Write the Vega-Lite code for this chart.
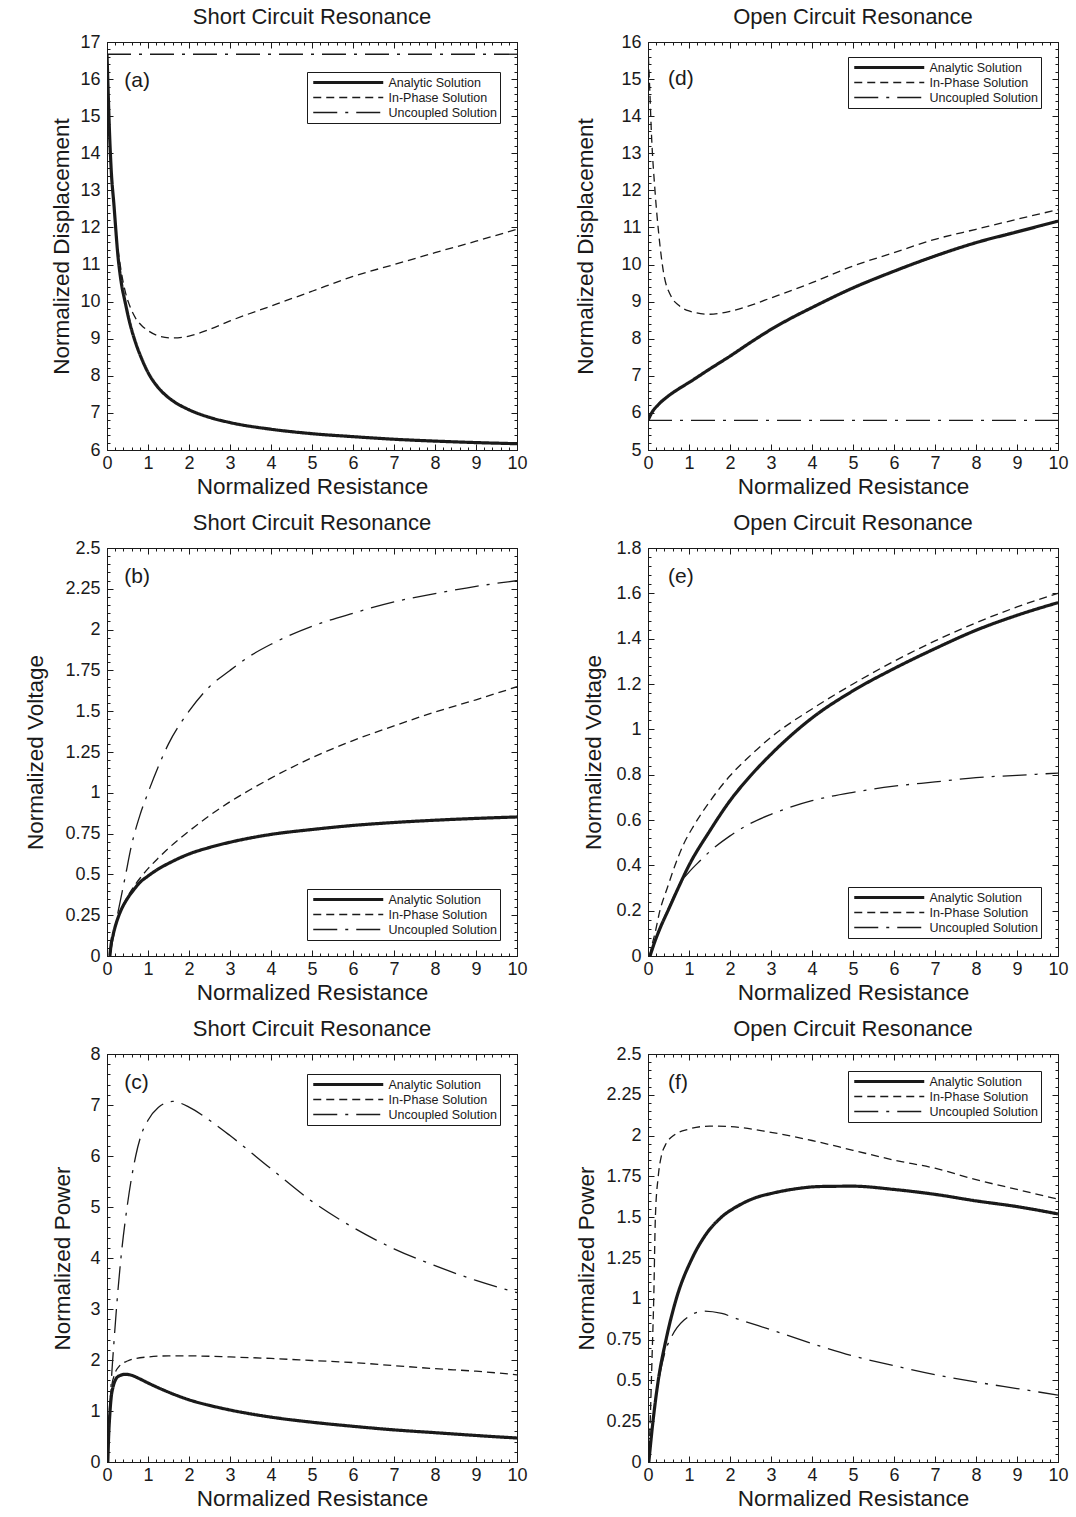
{
  "$schema": "https://vega.github.io/schema/vega-lite/v6.json",
  "background": "white",
  "padding": {"left": 23, "top": 5, "right": 18, "bottom": 10},
  "columns": 2,
  "spacing": {"row": 98, "column": 131},
  "bounds": "flush",
  "resolve": {"scale": {"strokeDash": "independent"}},
  "datasets": {
    "a": [
      {"r": 0, "v": 16.67, "s": "Analytic Solution"},
      {"r": 0.03, "v": 15.6, "s": "Analytic Solution"},
      {"r": 0.06, "v": 14.6, "s": "Analytic Solution"},
      {"r": 0.1, "v": 13.6, "s": "Analytic Solution"},
      {"r": 0.17, "v": 12.6, "s": "Analytic Solution"},
      {"r": 0.27, "v": 11.2, "s": "Analytic Solution"},
      {"r": 0.35, "v": 10.5, "s": "Analytic Solution"},
      {"r": 0.44, "v": 10.0, "s": "Analytic Solution"},
      {"r": 0.55, "v": 9.45, "s": "Analytic Solution"},
      {"r": 0.68, "v": 8.95, "s": "Analytic Solution"},
      {"r": 0.85, "v": 8.45, "s": "Analytic Solution"},
      {"r": 1.02, "v": 8.05, "s": "Analytic Solution"},
      {"r": 1.2, "v": 7.75, "s": "Analytic Solution"},
      {"r": 1.36, "v": 7.55, "s": "Analytic Solution"},
      {"r": 1.6, "v": 7.33, "s": "Analytic Solution"},
      {"r": 2, "v": 7.085, "s": "Analytic Solution"},
      {"r": 2.5, "v": 6.88, "s": "Analytic Solution"},
      {"r": 3, "v": 6.74, "s": "Analytic Solution"},
      {"r": 4, "v": 6.56, "s": "Analytic Solution"},
      {"r": 5, "v": 6.44, "s": "Analytic Solution"},
      {"r": 6, "v": 6.36, "s": "Analytic Solution"},
      {"r": 7, "v": 6.29, "s": "Analytic Solution"},
      {"r": 8, "v": 6.24, "s": "Analytic Solution"},
      {"r": 9, "v": 6.2, "s": "Analytic Solution"},
      {"r": 10, "v": 6.17, "s": "Analytic Solution"},
      {"r": 0, "v": 16.67, "s": "In-Phase Solution"},
      {"r": 0.03, "v": 15.6, "s": "In-Phase Solution"},
      {"r": 0.06, "v": 14.6, "s": "In-Phase Solution"},
      {"r": 0.1, "v": 13.6, "s": "In-Phase Solution"},
      {"r": 0.17, "v": 12.6, "s": "In-Phase Solution"},
      {"r": 0.25, "v": 11.6, "s": "In-Phase Solution"},
      {"r": 0.35, "v": 10.8, "s": "In-Phase Solution"},
      {"r": 0.45, "v": 10.25, "s": "In-Phase Solution"},
      {"r": 0.55, "v": 9.9, "s": "In-Phase Solution"},
      {"r": 0.7, "v": 9.55, "s": "In-Phase Solution"},
      {"r": 0.85, "v": 9.35, "s": "In-Phase Solution"},
      {"r": 1, "v": 9.22, "s": "In-Phase Solution"},
      {"r": 1.25, "v": 9.08, "s": "In-Phase Solution"},
      {"r": 1.6, "v": 9.02, "s": "In-Phase Solution"},
      {"r": 2, "v": 9.07, "s": "In-Phase Solution"},
      {"r": 2.5, "v": 9.25, "s": "In-Phase Solution"},
      {"r": 3, "v": 9.48, "s": "In-Phase Solution"},
      {"r": 4, "v": 9.88, "s": "In-Phase Solution"},
      {"r": 5, "v": 10.28, "s": "In-Phase Solution"},
      {"r": 6, "v": 10.68, "s": "In-Phase Solution"},
      {"r": 7, "v": 11.0, "s": "In-Phase Solution"},
      {"r": 8, "v": 11.32, "s": "In-Phase Solution"},
      {"r": 9, "v": 11.63, "s": "In-Phase Solution"},
      {"r": 10, "v": 11.95, "s": "In-Phase Solution"},
      {"r": 0, "v": 16.67, "s": "Uncoupled Solution"},
      {"r": 10, "v": 16.67, "s": "Uncoupled Solution"}
    ],
    "d": [
      {"r": 0, "v": 5.8, "s": "Analytic Solution"},
      {"r": 0.1, "v": 6.02, "s": "Analytic Solution"},
      {"r": 0.25, "v": 6.22, "s": "Analytic Solution"},
      {"r": 0.5, "v": 6.46, "s": "Analytic Solution"},
      {"r": 0.75, "v": 6.65, "s": "Analytic Solution"},
      {"r": 1, "v": 6.82, "s": "Analytic Solution"},
      {"r": 1.5, "v": 7.18, "s": "Analytic Solution"},
      {"r": 2, "v": 7.53, "s": "Analytic Solution"},
      {"r": 2.5, "v": 7.9, "s": "Analytic Solution"},
      {"r": 3, "v": 8.25, "s": "Analytic Solution"},
      {"r": 3.5, "v": 8.56, "s": "Analytic Solution"},
      {"r": 4, "v": 8.84, "s": "Analytic Solution"},
      {"r": 5, "v": 9.37, "s": "Analytic Solution"},
      {"r": 6, "v": 9.82, "s": "Analytic Solution"},
      {"r": 7, "v": 10.23, "s": "Analytic Solution"},
      {"r": 8, "v": 10.59, "s": "Analytic Solution"},
      {"r": 9, "v": 10.88, "s": "Analytic Solution"},
      {"r": 10, "v": 11.17, "s": "Analytic Solution"},
      {"r": 0.01, "v": 15.6, "s": "In-Phase Solution"},
      {"r": 0.04, "v": 14.8, "s": "In-Phase Solution"},
      {"r": 0.085, "v": 13.5, "s": "In-Phase Solution"},
      {"r": 0.17, "v": 12.0, "s": "In-Phase Solution"},
      {"r": 0.26, "v": 10.85, "s": "In-Phase Solution"},
      {"r": 0.38, "v": 9.78, "s": "In-Phase Solution"},
      {"r": 0.56, "v": 9.15, "s": "In-Phase Solution"},
      {"r": 0.75, "v": 8.9, "s": "In-Phase Solution"},
      {"r": 1, "v": 8.75, "s": "In-Phase Solution"},
      {"r": 1.5, "v": 8.66, "s": "In-Phase Solution"},
      {"r": 2, "v": 8.74, "s": "In-Phase Solution"},
      {"r": 2.5, "v": 8.9, "s": "In-Phase Solution"},
      {"r": 3, "v": 9.1, "s": "In-Phase Solution"},
      {"r": 4, "v": 9.51, "s": "In-Phase Solution"},
      {"r": 5, "v": 9.96, "s": "In-Phase Solution"},
      {"r": 6, "v": 10.32, "s": "In-Phase Solution"},
      {"r": 7, "v": 10.68, "s": "In-Phase Solution"},
      {"r": 8, "v": 10.95, "s": "In-Phase Solution"},
      {"r": 9, "v": 11.22, "s": "In-Phase Solution"},
      {"r": 10, "v": 11.48, "s": "In-Phase Solution"},
      {"r": 0, "v": 5.8, "s": "Uncoupled Solution"},
      {"r": 10, "v": 5.8, "s": "Uncoupled Solution"}
    ],
    "b": [
      {"r": 0.07, "v": 0, "s": "Analytic Solution"},
      {"r": 0.1, "v": 0.07, "s": "Analytic Solution"},
      {"r": 0.15, "v": 0.13, "s": "Analytic Solution"},
      {"r": 0.2, "v": 0.18, "s": "Analytic Solution"},
      {"r": 0.27, "v": 0.235, "s": "Analytic Solution"},
      {"r": 0.35, "v": 0.285, "s": "Analytic Solution"},
      {"r": 0.48, "v": 0.345, "s": "Analytic Solution"},
      {"r": 0.65, "v": 0.405, "s": "Analytic Solution"},
      {"r": 0.8, "v": 0.45, "s": "Analytic Solution"},
      {"r": 1, "v": 0.49, "s": "Analytic Solution"},
      {"r": 1.2, "v": 0.525, "s": "Analytic Solution"},
      {"r": 1.6, "v": 0.58, "s": "Analytic Solution"},
      {"r": 2, "v": 0.625, "s": "Analytic Solution"},
      {"r": 2.5, "v": 0.665, "s": "Analytic Solution"},
      {"r": 3, "v": 0.697, "s": "Analytic Solution"},
      {"r": 4, "v": 0.745, "s": "Analytic Solution"},
      {"r": 5, "v": 0.775, "s": "Analytic Solution"},
      {"r": 6, "v": 0.8, "s": "Analytic Solution"},
      {"r": 7, "v": 0.818, "s": "Analytic Solution"},
      {"r": 8, "v": 0.832, "s": "Analytic Solution"},
      {"r": 9, "v": 0.843, "s": "Analytic Solution"},
      {"r": 10, "v": 0.852, "s": "Analytic Solution"},
      {"r": 0.07, "v": 0, "s": "In-Phase Solution"},
      {"r": 0.1, "v": 0.07, "s": "In-Phase Solution"},
      {"r": 0.15, "v": 0.13, "s": "In-Phase Solution"},
      {"r": 0.2, "v": 0.18, "s": "In-Phase Solution"},
      {"r": 0.27, "v": 0.24, "s": "In-Phase Solution"},
      {"r": 0.35, "v": 0.29, "s": "In-Phase Solution"},
      {"r": 0.45, "v": 0.34, "s": "In-Phase Solution"},
      {"r": 0.6, "v": 0.405, "s": "In-Phase Solution"},
      {"r": 0.8, "v": 0.475, "s": "In-Phase Solution"},
      {"r": 1, "v": 0.535, "s": "In-Phase Solution"},
      {"r": 1.25, "v": 0.6, "s": "In-Phase Solution"},
      {"r": 1.5, "v": 0.66, "s": "In-Phase Solution"},
      {"r": 2, "v": 0.765, "s": "In-Phase Solution"},
      {"r": 2.5, "v": 0.86, "s": "In-Phase Solution"},
      {"r": 3, "v": 0.945, "s": "In-Phase Solution"},
      {"r": 3.5, "v": 1.02, "s": "In-Phase Solution"},
      {"r": 4, "v": 1.09, "s": "In-Phase Solution"},
      {"r": 5, "v": 1.215, "s": "In-Phase Solution"},
      {"r": 6, "v": 1.32, "s": "In-Phase Solution"},
      {"r": 7, "v": 1.41, "s": "In-Phase Solution"},
      {"r": 8, "v": 1.495, "s": "In-Phase Solution"},
      {"r": 9, "v": 1.57, "s": "In-Phase Solution"},
      {"r": 10, "v": 1.65, "s": "In-Phase Solution"},
      {"r": 0.07, "v": 0, "s": "Uncoupled Solution"},
      {"r": 0.1, "v": 0.04, "s": "Uncoupled Solution"},
      {"r": 0.15, "v": 0.11, "s": "Uncoupled Solution"},
      {"r": 0.2, "v": 0.18, "s": "Uncoupled Solution"},
      {"r": 0.27, "v": 0.27, "s": "Uncoupled Solution"},
      {"r": 0.44, "v": 0.48, "s": "Uncoupled Solution"},
      {"r": 0.6, "v": 0.68, "s": "Uncoupled Solution"},
      {"r": 0.8, "v": 0.86, "s": "Uncoupled Solution"},
      {"r": 1, "v": 1.0, "s": "Uncoupled Solution"},
      {"r": 1.25, "v": 1.16, "s": "Uncoupled Solution"},
      {"r": 1.5, "v": 1.3, "s": "Uncoupled Solution"},
      {"r": 2, "v": 1.5, "s": "Uncoupled Solution"},
      {"r": 2.5, "v": 1.65, "s": "Uncoupled Solution"},
      {"r": 3, "v": 1.75, "s": "Uncoupled Solution"},
      {"r": 3.5, "v": 1.84, "s": "Uncoupled Solution"},
      {"r": 4, "v": 1.91, "s": "Uncoupled Solution"},
      {"r": 5, "v": 2.02, "s": "Uncoupled Solution"},
      {"r": 6, "v": 2.1, "s": "Uncoupled Solution"},
      {"r": 7, "v": 2.17, "s": "Uncoupled Solution"},
      {"r": 8, "v": 2.22, "s": "Uncoupled Solution"},
      {"r": 9, "v": 2.265, "s": "Uncoupled Solution"},
      {"r": 10, "v": 2.3, "s": "Uncoupled Solution"}
    ],
    "e": [
      {"r": 0.05, "v": 0, "s": "Analytic Solution"},
      {"r": 0.15, "v": 0.055, "s": "Analytic Solution"},
      {"r": 0.3, "v": 0.125, "s": "Analytic Solution"},
      {"r": 0.5, "v": 0.205, "s": "Analytic Solution"},
      {"r": 0.75, "v": 0.305, "s": "Analytic Solution"},
      {"r": 1, "v": 0.4, "s": "Analytic Solution"},
      {"r": 1.5, "v": 0.55, "s": "Analytic Solution"},
      {"r": 2, "v": 0.685, "s": "Analytic Solution"},
      {"r": 2.5, "v": 0.795, "s": "Analytic Solution"},
      {"r": 3, "v": 0.89, "s": "Analytic Solution"},
      {"r": 4, "v": 1.05, "s": "Analytic Solution"},
      {"r": 5, "v": 1.17, "s": "Analytic Solution"},
      {"r": 6, "v": 1.268, "s": "Analytic Solution"},
      {"r": 7, "v": 1.356, "s": "Analytic Solution"},
      {"r": 8, "v": 1.437, "s": "Analytic Solution"},
      {"r": 9, "v": 1.503, "s": "Analytic Solution"},
      {"r": 10, "v": 1.559, "s": "Analytic Solution"},
      {"r": 0.04, "v": 0, "s": "In-Phase Solution"},
      {"r": 0.1, "v": 0.05, "s": "In-Phase Solution"},
      {"r": 0.17, "v": 0.1, "s": "In-Phase Solution"},
      {"r": 0.29, "v": 0.2, "s": "In-Phase Solution"},
      {"r": 0.47, "v": 0.3, "s": "In-Phase Solution"},
      {"r": 0.66, "v": 0.4, "s": "In-Phase Solution"},
      {"r": 0.86, "v": 0.49, "s": "In-Phase Solution"},
      {"r": 1.1, "v": 0.57, "s": "In-Phase Solution"},
      {"r": 1.5, "v": 0.68, "s": "In-Phase Solution"},
      {"r": 2, "v": 0.795, "s": "In-Phase Solution"},
      {"r": 2.5, "v": 0.885, "s": "In-Phase Solution"},
      {"r": 3, "v": 0.965, "s": "In-Phase Solution"},
      {"r": 4, "v": 1.09, "s": "In-Phase Solution"},
      {"r": 5, "v": 1.2, "s": "In-Phase Solution"},
      {"r": 6, "v": 1.3, "s": "In-Phase Solution"},
      {"r": 7, "v": 1.39, "s": "In-Phase Solution"},
      {"r": 8, "v": 1.47, "s": "In-Phase Solution"},
      {"r": 9, "v": 1.54, "s": "In-Phase Solution"},
      {"r": 10, "v": 1.6, "s": "In-Phase Solution"},
      {"r": 0.05, "v": 0, "s": "Uncoupled Solution"},
      {"r": 0.15, "v": 0.055, "s": "Uncoupled Solution"},
      {"r": 0.3, "v": 0.125, "s": "Uncoupled Solution"},
      {"r": 0.5, "v": 0.21, "s": "Uncoupled Solution"},
      {"r": 0.78, "v": 0.32, "s": "Uncoupled Solution"},
      {"r": 1, "v": 0.37, "s": "Uncoupled Solution"},
      {"r": 1.27, "v": 0.42, "s": "Uncoupled Solution"},
      {"r": 1.5, "v": 0.46, "s": "Uncoupled Solution"},
      {"r": 2, "v": 0.53, "s": "Uncoupled Solution"},
      {"r": 2.5, "v": 0.585, "s": "Uncoupled Solution"},
      {"r": 3, "v": 0.625, "s": "Uncoupled Solution"},
      {"r": 4, "v": 0.685, "s": "Uncoupled Solution"},
      {"r": 5, "v": 0.722, "s": "Uncoupled Solution"},
      {"r": 6, "v": 0.749, "s": "Uncoupled Solution"},
      {"r": 7, "v": 0.768, "s": "Uncoupled Solution"},
      {"r": 8, "v": 0.787, "s": "Uncoupled Solution"},
      {"r": 9, "v": 0.797, "s": "Uncoupled Solution"},
      {"r": 10, "v": 0.807, "s": "Uncoupled Solution"}
    ],
    "c": [
      {"r": 0.02, "v": 0, "s": "Analytic Solution"},
      {"r": 0.04, "v": 0.5, "s": "Analytic Solution"},
      {"r": 0.07, "v": 0.95, "s": "Analytic Solution"},
      {"r": 0.1, "v": 1.25, "s": "Analytic Solution"},
      {"r": 0.15, "v": 1.48, "s": "Analytic Solution"},
      {"r": 0.2, "v": 1.6, "s": "Analytic Solution"},
      {"r": 0.3, "v": 1.69, "s": "Analytic Solution"},
      {"r": 0.45, "v": 1.72, "s": "Analytic Solution"},
      {"r": 0.6, "v": 1.7, "s": "Analytic Solution"},
      {"r": 0.8, "v": 1.63, "s": "Analytic Solution"},
      {"r": 1, "v": 1.55, "s": "Analytic Solution"},
      {"r": 1.5, "v": 1.37, "s": "Analytic Solution"},
      {"r": 2, "v": 1.22, "s": "Analytic Solution"},
      {"r": 2.5, "v": 1.11, "s": "Analytic Solution"},
      {"r": 3, "v": 1.02, "s": "Analytic Solution"},
      {"r": 4, "v": 0.88, "s": "Analytic Solution"},
      {"r": 5, "v": 0.78, "s": "Analytic Solution"},
      {"r": 6, "v": 0.7, "s": "Analytic Solution"},
      {"r": 7, "v": 0.63, "s": "Analytic Solution"},
      {"r": 8, "v": 0.575, "s": "Analytic Solution"},
      {"r": 9, "v": 0.52, "s": "Analytic Solution"},
      {"r": 10, "v": 0.47, "s": "Analytic Solution"},
      {"r": 0.02, "v": 0, "s": "In-Phase Solution"},
      {"r": 0.05, "v": 0.85, "s": "In-Phase Solution"},
      {"r": 0.1, "v": 1.4, "s": "In-Phase Solution"},
      {"r": 0.2, "v": 1.75, "s": "In-Phase Solution"},
      {"r": 0.3, "v": 1.88, "s": "In-Phase Solution"},
      {"r": 0.5, "v": 1.98, "s": "In-Phase Solution"},
      {"r": 0.7, "v": 2.03, "s": "In-Phase Solution"},
      {"r": 1, "v": 2.06, "s": "In-Phase Solution"},
      {"r": 1.5, "v": 2.08, "s": "In-Phase Solution"},
      {"r": 2, "v": 2.08, "s": "In-Phase Solution"},
      {"r": 3, "v": 2.06, "s": "In-Phase Solution"},
      {"r": 4, "v": 2.03, "s": "In-Phase Solution"},
      {"r": 5, "v": 1.99, "s": "In-Phase Solution"},
      {"r": 6, "v": 1.95, "s": "In-Phase Solution"},
      {"r": 7, "v": 1.89, "s": "In-Phase Solution"},
      {"r": 8, "v": 1.83, "s": "In-Phase Solution"},
      {"r": 9, "v": 1.78, "s": "In-Phase Solution"},
      {"r": 10, "v": 1.71, "s": "In-Phase Solution"},
      {"r": 0.02, "v": 0, "s": "Uncoupled Solution"},
      {"r": 0.06, "v": 0.8, "s": "Uncoupled Solution"},
      {"r": 0.1, "v": 1.5, "s": "Uncoupled Solution"},
      {"r": 0.17, "v": 2.35, "s": "Uncoupled Solution"},
      {"r": 0.25, "v": 3.2, "s": "Uncoupled Solution"},
      {"r": 0.34, "v": 4.0, "s": "Uncoupled Solution"},
      {"r": 0.49, "v": 5.0, "s": "Uncoupled Solution"},
      {"r": 0.7, "v": 6.0, "s": "Uncoupled Solution"},
      {"r": 0.85, "v": 6.45, "s": "Uncoupled Solution"},
      {"r": 1, "v": 6.7, "s": "Uncoupled Solution"},
      {"r": 1.25, "v": 6.95, "s": "Uncoupled Solution"},
      {"r": 1.6, "v": 7.07, "s": "Uncoupled Solution"},
      {"r": 2, "v": 6.96, "s": "Uncoupled Solution"},
      {"r": 2.5, "v": 6.7, "s": "Uncoupled Solution"},
      {"r": 3, "v": 6.4, "s": "Uncoupled Solution"},
      {"r": 4, "v": 5.75, "s": "Uncoupled Solution"},
      {"r": 5, "v": 5.11, "s": "Uncoupled Solution"},
      {"r": 6, "v": 4.6, "s": "Uncoupled Solution"},
      {"r": 7, "v": 4.18, "s": "Uncoupled Solution"},
      {"r": 8, "v": 3.85, "s": "Uncoupled Solution"},
      {"r": 9, "v": 3.56, "s": "Uncoupled Solution"},
      {"r": 10, "v": 3.32, "s": "Uncoupled Solution"}
    ],
    "f": [
      {"r": 0.02, "v": 0, "s": "Analytic Solution"},
      {"r": 0.1, "v": 0.2, "s": "Analytic Solution"},
      {"r": 0.25, "v": 0.5, "s": "Analytic Solution"},
      {"r": 0.44, "v": 0.75, "s": "Analytic Solution"},
      {"r": 0.69, "v": 1.0, "s": "Analytic Solution"},
      {"r": 1.08, "v": 1.25, "s": "Analytic Solution"},
      {"r": 1.4, "v": 1.39, "s": "Analytic Solution"},
      {"r": 1.79, "v": 1.5, "s": "Analytic Solution"},
      {"r": 2.2, "v": 1.57, "s": "Analytic Solution"},
      {"r": 2.63, "v": 1.62, "s": "Analytic Solution"},
      {"r": 3, "v": 1.645, "s": "Analytic Solution"},
      {"r": 3.5, "v": 1.67, "s": "Analytic Solution"},
      {"r": 4.2, "v": 1.688, "s": "Analytic Solution"},
      {"r": 5, "v": 1.69, "s": "Analytic Solution"},
      {"r": 6, "v": 1.67, "s": "Analytic Solution"},
      {"r": 7, "v": 1.64, "s": "Analytic Solution"},
      {"r": 8, "v": 1.6, "s": "Analytic Solution"},
      {"r": 9, "v": 1.565, "s": "Analytic Solution"},
      {"r": 10, "v": 1.52, "s": "Analytic Solution"},
      {"r": 0.02, "v": 0, "s": "In-Phase Solution"},
      {"r": 0.06, "v": 0.3, "s": "In-Phase Solution"},
      {"r": 0.1, "v": 0.65, "s": "In-Phase Solution"},
      {"r": 0.14, "v": 1.0, "s": "In-Phase Solution"},
      {"r": 0.18, "v": 1.5, "s": "In-Phase Solution"},
      {"r": 0.25, "v": 1.75, "s": "In-Phase Solution"},
      {"r": 0.33, "v": 1.88, "s": "In-Phase Solution"},
      {"r": 0.42, "v": 1.94, "s": "In-Phase Solution"},
      {"r": 0.62, "v": 2.0, "s": "In-Phase Solution"},
      {"r": 1, "v": 2.04, "s": "In-Phase Solution"},
      {"r": 1.5, "v": 2.058, "s": "In-Phase Solution"},
      {"r": 2, "v": 2.055, "s": "In-Phase Solution"},
      {"r": 3, "v": 2.02, "s": "In-Phase Solution"},
      {"r": 4, "v": 1.97, "s": "In-Phase Solution"},
      {"r": 5, "v": 1.91, "s": "In-Phase Solution"},
      {"r": 6, "v": 1.85, "s": "In-Phase Solution"},
      {"r": 7, "v": 1.8, "s": "In-Phase Solution"},
      {"r": 8, "v": 1.73, "s": "In-Phase Solution"},
      {"r": 9, "v": 1.67, "s": "In-Phase Solution"},
      {"r": 10, "v": 1.61, "s": "In-Phase Solution"},
      {"r": 0.02, "v": 0, "s": "Uncoupled Solution"},
      {"r": 0.1, "v": 0.2, "s": "Uncoupled Solution"},
      {"r": 0.25, "v": 0.48, "s": "Uncoupled Solution"},
      {"r": 0.4, "v": 0.66, "s": "Uncoupled Solution"},
      {"r": 0.58, "v": 0.77, "s": "Uncoupled Solution"},
      {"r": 0.88, "v": 0.87, "s": "Uncoupled Solution"},
      {"r": 1.38, "v": 0.925, "s": "Uncoupled Solution"},
      {"r": 1.8, "v": 0.91, "s": "Uncoupled Solution"},
      {"r": 2.2, "v": 0.875, "s": "Uncoupled Solution"},
      {"r": 3, "v": 0.81, "s": "Uncoupled Solution"},
      {"r": 4.2, "v": 0.71, "s": "Uncoupled Solution"},
      {"r": 5, "v": 0.65, "s": "Uncoupled Solution"},
      {"r": 6, "v": 0.59, "s": "Uncoupled Solution"},
      {"r": 7, "v": 0.535, "s": "Uncoupled Solution"},
      {"r": 8, "v": 0.49, "s": "Uncoupled Solution"},
      {"r": 9, "v": 0.45, "s": "Uncoupled Solution"},
      {"r": 10, "v": 0.41, "s": "Uncoupled Solution"}
    ]
  },
  "concat": [
    {
      "width": 410, "height": 408,
      "title": "Short Circuit Resonance",
      "data": {"name": "a"},
      "layer": [
        {
          "mark": {"type": "line", "interpolate": "monotone", "clip": true},
          "encoding": {
            "x": {"field": "r", "type": "quantitative", "scale": {"domain": [0, 10], "nice": false, "zero": false},
              "axis": {"orient": "bottom", "values": [0, 1, 2, 3, 4, 5, 6, 7, 8, 9, 10], "ticks": false, "tickSize": 0, "labelPadding": 4, "title": "Normalized Resistance", "titlePadding": 3, "minExtent": 22, "maxExtent": 22}},
            "y": {"field": "v", "type": "quantitative", "scale": {"domain": [6, 17], "nice": false, "zero": false},
              "axis": {"orient": "left", "values": [6, 7, 8, 9, 10, 11, 12, 13, 14, 15, 16, 17], "ticks": false, "tickSize": 0, "labelPadding": 7, "format": ".3~g", "title": "Normalized Displacement", "titlePadding": 4, "minExtent": 30, "maxExtent": 30}},
            "color": {"value": "#1a1a1a"},
            "strokeWidth": {"condition": {"test": "datum.s === 'Analytic Solution'", "value": 3.2}, "value": 1.3},
            "strokeDash": {"field": "s", "type": "nominal",
              "scale": {"domain": ["Analytic Solution", "In-Phase Solution", "Uncoupled Solution"], "range": [[1, 0], [8, 5], [24, 8, 3, 8]]},
              "legend": {"title": null, "legendX": 200, "legendY": 30}}
          }
        },
        {
          "mark": {"type": "point", "opacity": 0},
          "encoding": {
            "x": {"field": "r", "type": "quantitative", "axis": {"orient": "top", "offset": -408, "values": [0, 1, 2, 3, 4, 5, 6, 7, 8, 9, 10], "tickSize": 6, "labels": false, "title": null}},
            "y": {"field": "v", "type": "quantitative", "axis": {"orient": "right", "offset": -410, "values": [6, 7, 8, 9, 10, 11, 12, 13, 14, 15, 16, 17], "tickSize": 6, "labels": false, "title": null}}
          }
        },
        {
          "mark": {"type": "point", "opacity": 0},
          "encoding": {
            "x": {"field": "r", "type": "quantitative", "axis": {"orient": "bottom", "offset": -408, "values": [0, 1, 2, 3, 4, 5, 6, 7, 8, 9, 10], "tickSize": 6, "labels": false, "title": null}},
            "y": {"field": "v", "type": "quantitative", "axis": {"orient": "left", "offset": -410, "values": [6, 7, 8, 9, 10, 11, 12, 13, 14, 15, 16, 17], "tickSize": 6, "labels": false, "title": null}}
          }
        },
        {
          "mark": {"type": "point", "opacity": 0},
          "encoding": {
            "x": {"field": "r", "type": "quantitative", "axis": {"orient": "top", "offset": -408, "tickCount": 50, "tickSize": 3, "labels": false, "title": null}},
            "y": {"field": "v", "type": "quantitative", "axis": {"orient": "right", "offset": -410, "tickCount": 55, "tickSize": 3, "labels": false, "title": null}}
          }
        },
        {
          "mark": {"type": "point", "opacity": 0},
          "encoding": {
            "x": {"field": "r", "type": "quantitative", "axis": {"orient": "bottom", "offset": -408, "tickCount": 50, "tickSize": 3, "labels": false, "title": null}},
            "y": {"field": "v", "type": "quantitative", "axis": {"orient": "left", "offset": -410, "tickCount": 55, "tickSize": 3, "labels": false, "title": null}}
          }
        },
        {
          "data": {"values": [{"label": "(a)"}]},
          "mark": {"type": "text", "align": "left", "baseline": "middle", "fontSize": 21, "color": "#1a1a1a"},
          "encoding": {
            "x": {"datum": 0.42, "type": "quantitative", "axis": null},
            "y": {"datum": 15.95, "type": "quantitative", "axis": null},
            "text": {"field": "label"}
          }
        }
      ],
      "resolve": {"axis": {"x": "independent", "y": "independent"}}
    },
    {
      "width": 410, "height": 408,
      "title": "Open Circuit Resonance",
      "data": {"name": "d"},
      "layer": [
        {
          "mark": {"type": "line", "interpolate": "monotone", "clip": true},
          "encoding": {
            "x": {"field": "r", "type": "quantitative", "scale": {"domain": [0, 10], "nice": false, "zero": false},
              "axis": {"orient": "bottom", "values": [0, 1, 2, 3, 4, 5, 6, 7, 8, 9, 10], "ticks": false, "tickSize": 0, "labelPadding": 4, "title": "Normalized Resistance", "titlePadding": 3, "minExtent": 22, "maxExtent": 22}},
            "y": {"field": "v", "type": "quantitative", "scale": {"domain": [5, 16], "nice": false, "zero": false},
              "axis": {"orient": "left", "values": [5, 6, 7, 8, 9, 10, 11, 12, 13, 14, 15, 16], "ticks": false, "tickSize": 0, "labelPadding": 7, "format": ".3~g", "title": "Normalized Displacement", "titlePadding": 21, "minExtent": 30, "maxExtent": 30}},
            "color": {"value": "#1a1a1a"},
            "strokeWidth": {"condition": {"test": "datum.s === 'Analytic Solution'", "value": 3.2}, "value": 1.3},
            "strokeDash": {"field": "s", "type": "nominal",
              "scale": {"domain": ["Analytic Solution", "In-Phase Solution", "Uncoupled Solution"], "range": [[1, 0], [8, 5], [24, 8, 3, 8]]},
              "legend": {"title": null, "legendX": 200, "legendY": 15}}
          }
        },
        {
          "mark": {"type": "point", "opacity": 0},
          "encoding": {
            "x": {"field": "r", "type": "quantitative", "axis": {"orient": "top", "offset": -408, "values": [0, 1, 2, 3, 4, 5, 6, 7, 8, 9, 10], "tickSize": 6, "labels": false, "title": null}},
            "y": {"field": "v", "type": "quantitative", "axis": {"orient": "right", "offset": -410, "values": [5, 6, 7, 8, 9, 10, 11, 12, 13, 14, 15, 16], "tickSize": 6, "labels": false, "title": null}}
          }
        },
        {
          "mark": {"type": "point", "opacity": 0},
          "encoding": {
            "x": {"field": "r", "type": "quantitative", "axis": {"orient": "bottom", "offset": -408, "values": [0, 1, 2, 3, 4, 5, 6, 7, 8, 9, 10], "tickSize": 6, "labels": false, "title": null}},
            "y": {"field": "v", "type": "quantitative", "axis": {"orient": "left", "offset": -410, "values": [5, 6, 7, 8, 9, 10, 11, 12, 13, 14, 15, 16], "tickSize": 6, "labels": false, "title": null}}
          }
        },
        {
          "mark": {"type": "point", "opacity": 0},
          "encoding": {
            "x": {"field": "r", "type": "quantitative", "axis": {"orient": "top", "offset": -408, "tickCount": 50, "tickSize": 3, "labels": false, "title": null}},
            "y": {"field": "v", "type": "quantitative", "axis": {"orient": "right", "offset": -410, "tickCount": 55, "tickSize": 3, "labels": false, "title": null}}
          }
        },
        {
          "mark": {"type": "point", "opacity": 0},
          "encoding": {
            "x": {"field": "r", "type": "quantitative", "axis": {"orient": "bottom", "offset": -408, "tickCount": 50, "tickSize": 3, "labels": false, "title": null}},
            "y": {"field": "v", "type": "quantitative", "axis": {"orient": "left", "offset": -410, "tickCount": 55, "tickSize": 3, "labels": false, "title": null}}
          }
        },
        {
          "data": {"values": [{"label": "(d)"}]},
          "mark": {"type": "text", "align": "left", "baseline": "middle", "fontSize": 21, "color": "#1a1a1a"},
          "encoding": {
            "x": {"datum": 0.49, "type": "quantitative", "axis": null},
            "y": {"datum": 15.0, "type": "quantitative", "axis": null},
            "text": {"field": "label"}
          }
        }
      ],
      "resolve": {"axis": {"x": "independent", "y": "independent"}}
    },
    {
      "width": 410, "height": 408,
      "title": "Short Circuit Resonance",
      "data": {"name": "b"},
      "layer": [
        {
          "mark": {"type": "line", "interpolate": "monotone", "clip": true},
          "encoding": {
            "x": {"field": "r", "type": "quantitative", "scale": {"domain": [0, 10], "nice": false, "zero": false},
              "axis": {"orient": "bottom", "values": [0, 1, 2, 3, 4, 5, 6, 7, 8, 9, 10], "ticks": false, "tickSize": 0, "labelPadding": 4, "title": "Normalized Resistance", "titlePadding": 3, "minExtent": 22, "maxExtent": 22}},
            "y": {"field": "v", "type": "quantitative", "scale": {"domain": [0, 2.5], "nice": false, "zero": false},
              "axis": {"orient": "left", "values": [0, 0.25, 0.5, 0.75, 1, 1.25, 1.5, 1.75, 2, 2.25, 2.5], "ticks": false, "tickSize": 0, "labelPadding": 7, "format": ".3~g", "title": "Normalized Voltage", "titlePadding": 30, "minExtent": 30, "maxExtent": 30}},
            "color": {"value": "#1a1a1a"},
            "strokeWidth": {"condition": {"test": "datum.s === 'Analytic Solution'", "value": 3.2}, "value": 1.3},
            "strokeDash": {"field": "s", "type": "nominal",
              "scale": {"domain": ["Analytic Solution", "In-Phase Solution", "Uncoupled Solution"], "range": [[1, 0], [8, 5], [24, 8, 3, 8]]},
              "legend": {"title": null, "legendX": 200, "legendY": 341}}
          }
        },
        {
          "mark": {"type": "point", "opacity": 0},
          "encoding": {
            "x": {"field": "r", "type": "quantitative", "axis": {"orient": "top", "offset": -408, "values": [0, 1, 2, 3, 4, 5, 6, 7, 8, 9, 10], "tickSize": 6, "labels": false, "title": null}},
            "y": {"field": "v", "type": "quantitative", "axis": {"orient": "right", "offset": -410, "values": [0, 0.25, 0.5, 0.75, 1, 1.25, 1.5, 1.75, 2, 2.25, 2.5], "tickSize": 6, "labels": false, "title": null}}
          }
        },
        {
          "mark": {"type": "point", "opacity": 0},
          "encoding": {
            "x": {"field": "r", "type": "quantitative", "axis": {"orient": "bottom", "offset": -408, "values": [0, 1, 2, 3, 4, 5, 6, 7, 8, 9, 10], "tickSize": 6, "labels": false, "title": null}},
            "y": {"field": "v", "type": "quantitative", "axis": {"orient": "left", "offset": -410, "values": [0, 0.25, 0.5, 0.75, 1, 1.25, 1.5, 1.75, 2, 2.25, 2.5], "tickSize": 6, "labels": false, "title": null}}
          }
        },
        {
          "mark": {"type": "point", "opacity": 0},
          "encoding": {
            "x": {"field": "r", "type": "quantitative", "axis": {"orient": "top", "offset": -408, "tickCount": 50, "tickSize": 3, "labels": false, "title": null}},
            "y": {"field": "v", "type": "quantitative", "axis": {"orient": "right", "offset": -410, "tickCount": 50, "tickSize": 3, "labels": false, "title": null}}
          }
        },
        {
          "mark": {"type": "point", "opacity": 0},
          "encoding": {
            "x": {"field": "r", "type": "quantitative", "axis": {"orient": "bottom", "offset": -408, "tickCount": 50, "tickSize": 3, "labels": false, "title": null}},
            "y": {"field": "v", "type": "quantitative", "axis": {"orient": "left", "offset": -410, "tickCount": 50, "tickSize": 3, "labels": false, "title": null}}
          }
        },
        {
          "data": {"values": [{"label": "(b)"}]},
          "mark": {"type": "text", "align": "left", "baseline": "middle", "fontSize": 21, "color": "#1a1a1a"},
          "encoding": {
            "x": {"datum": 0.42, "type": "quantitative", "axis": null},
            "y": {"datum": 2.32, "type": "quantitative", "axis": null},
            "text": {"field": "label"}
          }
        }
      ],
      "resolve": {"axis": {"x": "independent", "y": "independent"}}
    },
    {
      "width": 410, "height": 408,
      "title": "Open Circuit Resonance",
      "data": {"name": "e"},
      "layer": [
        {
          "mark": {"type": "line", "interpolate": "monotone", "clip": true},
          "encoding": {
            "x": {"field": "r", "type": "quantitative", "scale": {"domain": [0, 10], "nice": false, "zero": false},
              "axis": {"orient": "bottom", "values": [0, 1, 2, 3, 4, 5, 6, 7, 8, 9, 10], "ticks": false, "tickSize": 0, "labelPadding": 4, "title": "Normalized Resistance", "titlePadding": 3, "minExtent": 22, "maxExtent": 22}},
            "y": {"field": "v", "type": "quantitative", "scale": {"domain": [0, 1.8], "nice": false, "zero": false},
              "axis": {"orient": "left", "values": [0, 0.2, 0.4, 0.6, 0.8, 1, 1.2, 1.4, 1.6, 1.8], "ticks": false, "tickSize": 0, "labelPadding": 7, "format": ".3~g", "title": "Normalized Voltage", "titlePadding": 13, "minExtent": 30, "maxExtent": 30}},
            "color": {"value": "#1a1a1a"},
            "strokeWidth": {"condition": {"test": "datum.s === 'Analytic Solution'", "value": 3.2}, "value": 1.3},
            "strokeDash": {"field": "s", "type": "nominal",
              "scale": {"domain": ["Analytic Solution", "In-Phase Solution", "Uncoupled Solution"], "range": [[1, 0], [8, 5], [24, 8, 3, 8]]},
              "legend": {"title": null, "legendX": 200, "legendY": 339}}
          }
        },
        {
          "mark": {"type": "point", "opacity": 0},
          "encoding": {
            "x": {"field": "r", "type": "quantitative", "axis": {"orient": "top", "offset": -408, "values": [0, 1, 2, 3, 4, 5, 6, 7, 8, 9, 10], "tickSize": 6, "labels": false, "title": null}},
            "y": {"field": "v", "type": "quantitative", "axis": {"orient": "right", "offset": -410, "values": [0, 0.2, 0.4, 0.6, 0.8, 1, 1.2, 1.4, 1.6, 1.8], "tickSize": 6, "labels": false, "title": null}}
          }
        },
        {
          "mark": {"type": "point", "opacity": 0},
          "encoding": {
            "x": {"field": "r", "type": "quantitative", "axis": {"orient": "bottom", "offset": -408, "values": [0, 1, 2, 3, 4, 5, 6, 7, 8, 9, 10], "tickSize": 6, "labels": false, "title": null}},
            "y": {"field": "v", "type": "quantitative", "axis": {"orient": "left", "offset": -410, "values": [0, 0.2, 0.4, 0.6, 0.8, 1, 1.2, 1.4, 1.6, 1.8], "tickSize": 6, "labels": false, "title": null}}
          }
        },
        {
          "mark": {"type": "point", "opacity": 0},
          "encoding": {
            "x": {"field": "r", "type": "quantitative", "axis": {"orient": "top", "offset": -408, "tickCount": 50, "tickSize": 3, "labels": false, "title": null}},
            "y": {"field": "v", "type": "quantitative", "axis": {"orient": "right", "offset": -410, "values": [0, 0.04, 0.08, 0.12, 0.16, 0.2, 0.24, 0.28, 0.32, 0.36, 0.4, 0.44, 0.48, 0.52, 0.56, 0.6, 0.64, 0.68, 0.72, 0.76, 0.8, 0.84, 0.88, 0.92, 0.96, 1, 1.04, 1.08, 1.12, 1.16, 1.2, 1.24, 1.28, 1.32, 1.36, 1.4, 1.44, 1.48, 1.52, 1.56, 1.6, 1.64, 1.68, 1.72, 1.76, 1.8], "tickSize": 3, "labels": false, "title": null}}
          }
        },
        {
          "mark": {"type": "point", "opacity": 0},
          "encoding": {
            "x": {"field": "r", "type": "quantitative", "axis": {"orient": "bottom", "offset": -408, "tickCount": 50, "tickSize": 3, "labels": false, "title": null}},
            "y": {"field": "v", "type": "quantitative", "axis": {"orient": "left", "offset": -410, "values": [0, 0.04, 0.08, 0.12, 0.16, 0.2, 0.24, 0.28, 0.32, 0.36, 0.4, 0.44, 0.48, 0.52, 0.56, 0.6, 0.64, 0.68, 0.72, 0.76, 0.8, 0.84, 0.88, 0.92, 0.96, 1, 1.04, 1.08, 1.12, 1.16, 1.2, 1.24, 1.28, 1.32, 1.36, 1.4, 1.44, 1.48, 1.52, 1.56, 1.6, 1.64, 1.68, 1.72, 1.76, 1.8], "tickSize": 3, "labels": false, "title": null}}
          }
        },
        {
          "data": {"values": [{"label": "(e)"}]},
          "mark": {"type": "text", "align": "left", "baseline": "middle", "fontSize": 21, "color": "#1a1a1a"},
          "encoding": {
            "x": {"datum": 0.49, "type": "quantitative", "axis": null},
            "y": {"datum": 1.672, "type": "quantitative", "axis": null},
            "text": {"field": "label"}
          }
        }
      ],
      "resolve": {"axis": {"x": "independent", "y": "independent"}}
    },
    {
      "width": 410, "height": 408,
      "title": "Short Circuit Resonance",
      "data": {"name": "c"},
      "layer": [
        {
          "mark": {"type": "line", "interpolate": "monotone", "clip": true},
          "encoding": {
            "x": {"field": "r", "type": "quantitative", "scale": {"domain": [0, 10], "nice": false, "zero": false},
              "axis": {"orient": "bottom", "values": [0, 1, 2, 3, 4, 5, 6, 7, 8, 9, 10], "ticks": false, "tickSize": 0, "labelPadding": 4, "title": "Normalized Resistance", "titlePadding": 3, "minExtent": 22, "maxExtent": 22}},
            "y": {"field": "v", "type": "quantitative", "scale": {"domain": [0, 8], "nice": false, "zero": false},
              "axis": {"orient": "left", "values": [0, 1, 2, 3, 4, 5, 6, 7, 8], "ticks": false, "tickSize": 0, "labelPadding": 7, "format": ".3~g", "title": "Normalized Power", "titlePadding": 3, "minExtent": 30, "maxExtent": 30}},
            "color": {"value": "#1a1a1a"},
            "strokeWidth": {"condition": {"test": "datum.s === 'Analytic Solution'", "value": 3.2}, "value": 1.3},
            "strokeDash": {"field": "s", "type": "nominal",
              "scale": {"domain": ["Analytic Solution", "In-Phase Solution", "Uncoupled Solution"], "range": [[1, 0], [8, 5], [24, 8, 3, 8]]},
              "legend": {"title": null, "legendX": 200, "legendY": 20}}
          }
        },
        {
          "mark": {"type": "point", "opacity": 0},
          "encoding": {
            "x": {"field": "r", "type": "quantitative", "axis": {"orient": "top", "offset": -408, "values": [0, 1, 2, 3, 4, 5, 6, 7, 8, 9, 10], "tickSize": 6, "labels": false, "title": null}},
            "y": {"field": "v", "type": "quantitative", "axis": {"orient": "right", "offset": -410, "values": [0, 1, 2, 3, 4, 5, 6, 7, 8], "tickSize": 6, "labels": false, "title": null}}
          }
        },
        {
          "mark": {"type": "point", "opacity": 0},
          "encoding": {
            "x": {"field": "r", "type": "quantitative", "axis": {"orient": "bottom", "offset": -408, "values": [0, 1, 2, 3, 4, 5, 6, 7, 8, 9, 10], "tickSize": 6, "labels": false, "title": null}},
            "y": {"field": "v", "type": "quantitative", "axis": {"orient": "left", "offset": -410, "values": [0, 1, 2, 3, 4, 5, 6, 7, 8], "tickSize": 6, "labels": false, "title": null}}
          }
        },
        {
          "mark": {"type": "point", "opacity": 0},
          "encoding": {
            "x": {"field": "r", "type": "quantitative", "axis": {"orient": "top", "offset": -408, "tickCount": 50, "tickSize": 3, "labels": false, "title": null}},
            "y": {"field": "v", "type": "quantitative", "axis": {"orient": "right", "offset": -410, "tickCount": 40, "tickSize": 3, "labels": false, "title": null}}
          }
        },
        {
          "mark": {"type": "point", "opacity": 0},
          "encoding": {
            "x": {"field": "r", "type": "quantitative", "axis": {"orient": "bottom", "offset": -408, "tickCount": 50, "tickSize": 3, "labels": false, "title": null}},
            "y": {"field": "v", "type": "quantitative", "axis": {"orient": "left", "offset": -410, "tickCount": 40, "tickSize": 3, "labels": false, "title": null}}
          }
        },
        {
          "data": {"values": [{"label": "(c)"}]},
          "mark": {"type": "text", "align": "left", "baseline": "middle", "fontSize": 21, "color": "#1a1a1a"},
          "encoding": {
            "x": {"datum": 0.42, "type": "quantitative", "axis": null},
            "y": {"datum": 7.43, "type": "quantitative", "axis": null},
            "text": {"field": "label"}
          }
        }
      ],
      "resolve": {"axis": {"x": "independent", "y": "independent"}}
    },
    {
      "width": 410, "height": 408,
      "title": "Open Circuit Resonance",
      "data": {"name": "f"},
      "layer": [
        {
          "mark": {"type": "line", "interpolate": "monotone", "clip": true},
          "encoding": {
            "x": {"field": "r", "type": "quantitative", "scale": {"domain": [0, 10], "nice": false, "zero": false},
              "axis": {"orient": "bottom", "values": [0, 1, 2, 3, 4, 5, 6, 7, 8, 9, 10], "ticks": false, "tickSize": 0, "labelPadding": 4, "title": "Normalized Resistance", "titlePadding": 3, "minExtent": 22, "maxExtent": 22}},
            "y": {"field": "v", "type": "quantitative", "scale": {"domain": [0, 2.5], "nice": false, "zero": false},
              "axis": {"orient": "left", "values": [0, 0.25, 0.5, 0.75, 1, 1.25, 1.5, 1.75, 2, 2.25, 2.5], "ticks": false, "tickSize": 0, "labelPadding": 7, "format": ".3~g", "title": "Normalized Power", "titlePadding": 20, "minExtent": 30, "maxExtent": 30}},
            "color": {"value": "#1a1a1a"},
            "strokeWidth": {"condition": {"test": "datum.s === 'Analytic Solution'", "value": 3.2}, "value": 1.3},
            "strokeDash": {"field": "s", "type": "nominal",
              "scale": {"domain": ["Analytic Solution", "In-Phase Solution", "Uncoupled Solution"], "range": [[1, 0], [8, 5], [24, 8, 3, 8]]},
              "legend": {"title": null, "legendX": 200, "legendY": 17}}
          }
        },
        {
          "mark": {"type": "point", "opacity": 0},
          "encoding": {
            "x": {"field": "r", "type": "quantitative", "axis": {"orient": "top", "offset": -408, "values": [0, 1, 2, 3, 4, 5, 6, 7, 8, 9, 10], "tickSize": 6, "labels": false, "title": null}},
            "y": {"field": "v", "type": "quantitative", "axis": {"orient": "right", "offset": -410, "values": [0, 0.25, 0.5, 0.75, 1, 1.25, 1.5, 1.75, 2, 2.25, 2.5], "tickSize": 6, "labels": false, "title": null}}
          }
        },
        {
          "mark": {"type": "point", "opacity": 0},
          "encoding": {
            "x": {"field": "r", "type": "quantitative", "axis": {"orient": "bottom", "offset": -408, "values": [0, 1, 2, 3, 4, 5, 6, 7, 8, 9, 10], "tickSize": 6, "labels": false, "title": null}},
            "y": {"field": "v", "type": "quantitative", "axis": {"orient": "left", "offset": -410, "values": [0, 0.25, 0.5, 0.75, 1, 1.25, 1.5, 1.75, 2, 2.25, 2.5], "tickSize": 6, "labels": false, "title": null}}
          }
        },
        {
          "mark": {"type": "point", "opacity": 0},
          "encoding": {
            "x": {"field": "r", "type": "quantitative", "axis": {"orient": "top", "offset": -408, "tickCount": 50, "tickSize": 3, "labels": false, "title": null}},
            "y": {"field": "v", "type": "quantitative", "axis": {"orient": "right", "offset": -410, "tickCount": 50, "tickSize": 3, "labels": false, "title": null}}
          }
        },
        {
          "mark": {"type": "point", "opacity": 0},
          "encoding": {
            "x": {"field": "r", "type": "quantitative", "axis": {"orient": "bottom", "offset": -408, "tickCount": 50, "tickSize": 3, "labels": false, "title": null}},
            "y": {"field": "v", "type": "quantitative", "axis": {"orient": "left", "offset": -410, "tickCount": 50, "tickSize": 3, "labels": false, "title": null}}
          }
        },
        {
          "data": {"values": [{"label": "(f)"}]},
          "mark": {"type": "text", "align": "left", "baseline": "middle", "fontSize": 21, "color": "#1a1a1a"},
          "encoding": {
            "x": {"datum": 0.49, "type": "quantitative", "axis": null},
            "y": {"datum": 2.32, "type": "quantitative", "axis": null},
            "text": {"field": "label"}
          }
        }
      ],
      "resolve": {"axis": {"x": "independent", "y": "independent"}}
    }
  ],
  "config": {
    "font": "Liberation Sans",
    "view": {"stroke": "#1a1a1a", "strokeWidth": 1},
    "axis": {
      "grid": false, "domain": false, "tickColor": "#1a1a1a", "tickWidth": 1,
      "labelFlush": false, "labelOverlap": false,
      "labelColor": "#1a1a1a", "titleColor": "#1a1a1a",
      "labelFont": "Liberation Sans", "titleFont": "Liberation Sans",
      "labelFontSize": 18, "titleFontSize": 22.5, "titleFontWeight": "normal"
    },
    "title": {"font": "Liberation Sans", "fontSize": 22, "fontWeight": "normal", "color": "#1a1a1a", "offset": 0},
    "legend": {
      "orient": "none", "symbolType": "stroke", "symbolSize": 4900, "symbolOffset": 32, "clipHeight": 15,
      "rowPadding": 0, "padding": 3, "strokeColor": "#1a1a1a", "fillColor": "white",
      "labelFont": "Liberation Sans", "labelFontSize": 12.5, "labelColor": "#1a1a1a", "labelOffset": 34,
      "symbolStrokeColor": "#1a1a1a", "labelLimit": 0,
      "symbolStrokeWidth": {"expr": "datum.value === 'Analytic Solution' ? 3.2 : 1.3"}
    }
  }
}
